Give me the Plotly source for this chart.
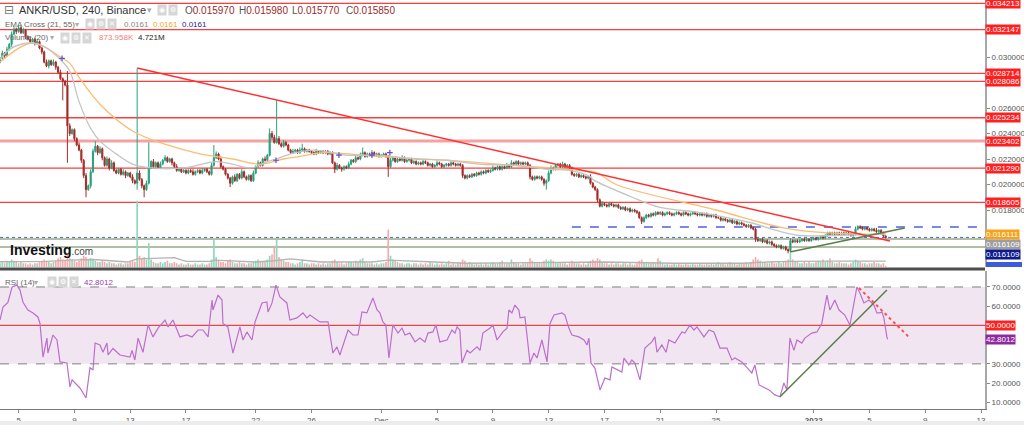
import pandas as pd
import plotly.graph_objects as go

# ---------------- data ----------------
bar_start = pd.Timestamp("2021-11-03 16:00")   # first 4h candle
bar_hours = 4

closes = [
    0.0299, 0.0303, 0.0301, 0.0306, 0.0310, 0.0318, 0.0322, 0.0320, 0.0323, 0.0319,
    0.0321, 0.0316, 0.0314, 0.0312, 0.0314, 0.0311, 0.0312, 0.0307, 0.0304, 0.0296,
    0.0293, 0.0297, 0.0294, 0.0296, 0.0292, 0.0288, 0.0283, 0.0281, 0.0278, 0.0246,
    0.0240, 0.0243, 0.0236, 0.0231, 0.0227, 0.0219, 0.0207, 0.0196, 0.0199, 0.0210,
    0.0226, 0.0230, 0.0225, 0.0228, 0.0221, 0.0215, 0.0220, 0.0213, 0.0217, 0.0211,
    0.0209, 0.0212, 0.0208, 0.0210, 0.0207, 0.0209, 0.0206, 0.0203, 0.0201, 0.0209,
    0.0204, 0.0199, 0.0196, 0.0201, 0.0213, 0.0218, 0.0214, 0.0217, 0.0213, 0.0216,
    0.0219, 0.0221, 0.0218, 0.0220, 0.0217, 0.0214, 0.0211, 0.0212, 0.0210, 0.0211,
    0.0209, 0.0211, 0.0210, 0.0208, 0.0210, 0.0211, 0.0209, 0.0211, 0.0212, 0.0210,
    0.0208, 0.0215, 0.0221, 0.0224, 0.0220, 0.0214, 0.0212, 0.0208, 0.0205, 0.0201,
    0.0206, 0.0203, 0.0208, 0.0205, 0.0210, 0.0206, 0.0204, 0.0207, 0.0203, 0.0209,
    0.0214, 0.0217, 0.0215, 0.0220, 0.0219, 0.0223, 0.0240, 0.0237, 0.0233, 0.0236,
    0.0232, 0.0230, 0.0233, 0.0231, 0.0227, 0.0225, 0.0226, 0.0227, 0.0225, 0.0227,
    0.0228, 0.0226, 0.0227, 0.0226, 0.0225, 0.0224, 0.0226, 0.0225, 0.0226, 0.0225,
    0.0226, 0.0224, 0.0225, 0.0217, 0.0212, 0.0215, 0.0213, 0.0212, 0.0214, 0.0213,
    0.0216, 0.0219, 0.0218, 0.0221, 0.0220, 0.0223, 0.0225, 0.0222, 0.0224, 0.0223,
    0.0225, 0.0223, 0.0224, 0.0222, 0.0223, 0.0224, 0.0222, 0.0214, 0.0219, 0.0221,
    0.0218, 0.0220, 0.0219, 0.0221, 0.0218, 0.0219, 0.0220, 0.0217, 0.0218, 0.0216,
    0.0217, 0.0216, 0.0218, 0.0217, 0.0215, 0.0216, 0.0214, 0.0215, 0.0217, 0.0216,
    0.0214, 0.0215, 0.0216, 0.0215, 0.0217, 0.0216, 0.0215, 0.0216, 0.0215, 0.0207,
    0.0205, 0.0207, 0.0206, 0.0208, 0.0207, 0.0209, 0.0208, 0.0210, 0.0209, 0.0211,
    0.0210, 0.0211, 0.0213, 0.0212, 0.0214, 0.0212, 0.0214, 0.0213, 0.0215, 0.0214,
    0.0217, 0.0216, 0.0218, 0.0216, 0.0217, 0.0216, 0.0217, 0.0215, 0.0206, 0.0204,
    0.0206, 0.0205, 0.0206, 0.0204, 0.0201, 0.0203, 0.0209, 0.0213, 0.0212, 0.0215,
    0.0216, 0.0214, 0.0216, 0.0214, 0.0215, 0.0213, 0.0208, 0.0207, 0.0208, 0.0206,
    0.0207, 0.0206, 0.0205, 0.0206, 0.0201, 0.0198, 0.0196, 0.0188, 0.0183, 0.0185,
    0.0184, 0.0183, 0.0185, 0.0184, 0.0183, 0.0184, 0.0182, 0.0181, 0.0182, 0.0180,
    0.0181, 0.0179, 0.0180, 0.0179, 0.0178, 0.0174, 0.0171, 0.0174, 0.0176, 0.0175,
    0.0177, 0.0176, 0.0178, 0.0177, 0.0178, 0.0176, 0.0177, 0.0178, 0.0177, 0.0176,
    0.0177, 0.0178, 0.0177, 0.0176, 0.0178, 0.0177, 0.0176, 0.0177, 0.0178, 0.0177,
    0.0176, 0.0177, 0.0176, 0.0177, 0.0175, 0.0176, 0.0175, 0.0176, 0.0174, 0.0174,
    0.0172, 0.0173, 0.0172, 0.0171, 0.0172, 0.0170, 0.0171, 0.0169, 0.0170, 0.0169,
    0.0168, 0.0167, 0.0168, 0.0166, 0.0165, 0.0157, 0.0156, 0.0157, 0.0155, 0.0156,
    0.0154, 0.0155, 0.0153, 0.0152, 0.0151, 0.0152, 0.0150, 0.0151, 0.0149, 0.0148,
    0.0156, 0.0155, 0.0156, 0.0155, 0.0156, 0.0157, 0.0156, 0.0157, 0.0156, 0.0157,
    0.0158, 0.0157, 0.0158, 0.0159, 0.0158, 0.0160, 0.0162, 0.0161, 0.0162, 0.0161,
    0.0162, 0.0161, 0.0162, 0.0161, 0.0162, 0.0161, 0.0160, 0.0161, 0.0165, 0.0167,
    0.0166, 0.0165, 0.0166, 0.0165, 0.0164, 0.0165, 0.0164, 0.0163, 0.0164, 0.0162,
    0.01597, 0.01585,
]
first_open = 0.0296

# wick lengths above / below the candle body, in units of 0.0001
upper_wick_e4 = [
    1, 2, 1, 2, 1, 2, 2, 1, 2, 1, 2, 1, 1, 2, 1, 1, 2, 1, 1, 1,
    2, 1, 1, 2, 1, 1, 2, 1, 1, 11, 2, 1, 1, 1, 2, 1, 1, 2, 1, 2,
    2, 4, 1, 2, 1, 1, 2, 1, 2, 1, 1, 1, 1, 2, 1, 1, 1, 2, 1, 82,
    2, 1, 1, 2, 20, 1, 2, 1, 1, 2, 1, 2, 1, 1, 1, 1, 2, 1, 1, 1,
    1, 1, 1, 2, 1, 1, 1, 2, 1, 1, 1, 2, 10, 2, 1, 2, 1, 1, 1, 1,
    1, 2, 1, 1, 2, 1, 1, 1, 1, 2, 1, 2, 1, 1, 2, 1, 4, 2, 2, 30,
    2, 1, 2, 1, 1, 1, 2, 1, 1, 2, 4, 1, 1, 1, 1, 1, 2, 1, 1, 1,
    1, 1, 1, 1, 1, 2, 1, 1, 1, 1, 2, 1, 1, 2, 1, 2, 4, 1, 1, 1,
    2, 1, 1, 1, 1, 1, 1, 1, 2, 1, 1, 1, 1, 2, 1, 1, 1, 1, 1, 1,
    1, 1, 2, 1, 1, 1, 1, 1, 2, 1, 1, 1, 1, 1, 2, 1, 1, 1, 1, 1,
    1, 1, 1, 1, 1, 1, 1, 1, 1, 1, 1, 1, 2, 1, 1, 1, 1, 1, 2, 1,
    2, 1, 1, 1, 1, 1, 1, 1, 1, 1, 1, 1, 1, 1, 1, 1, 2, 2, 1, 1,
    1, 1, 2, 1, 1, 1, 1, 1, 1, 1, 1, 1, 1, 1, 2, 1, 1, 1, 1, 2,
    1, 1, 1, 1, 1, 1, 1, 1, 1, 1, 1, 1, 1, 1, 1, 1, 1, 1, 1, 1,
    1, 1, 1, 1, 1, 1, 1, 1, 1, 1, 1, 1, 1, 1, 1, 1, 1, 1, 1, 1,
    1, 1, 1, 1, 1, 1, 1, 1, 1, 1, 1, 1, 1, 1, 1, 1, 1, 1, 1, 1,
    1, 1, 1, 1, 1, 1, 1, 1, 1, 1, 1, 1, 1, 1, 1, 1, 1, 1, 1, 1,
    2, 1, 1, 1, 1, 1, 1, 1, 1, 1, 1, 1, 1, 1, 1, 1, 1, 1, 1, 1,
    1, 1, 1, 1, 1, 1, 1, 1, 2, 1, 1, 1, 1, 1, 1, 1, 1, 2, 1, 1,
    1, 0.1,
]
lower_wick_e4 = [
    1, 1, 2, 1, 1, 2, 1, 2, 1, 1, 1, 2, 1, 1, 1, 2, 1, 1, 2, 1,
    1, 2, 1, 1, 2, 1, 1, 15, 1, 29, 2, 1, 2, 1, 1, 2, 2, 6, 1, 2,
    1, 1, 2, 1, 2, 1, 1, 2, 1, 1, 1, 1, 1, 1, 2, 1, 1, 2, 1, 5,
    1, 2, 6, 1, 1, 1, 1, 2, 1, 1, 1, 1, 1, 1, 2, 1, 1, 1, 1, 1,
    1, 1, 1, 1, 1, 1, 1, 1, 1, 1, 1, 1, 1, 1, 1, 1, 1, 1, 1, 3,
    1, 1, 1, 1, 1, 1, 1, 1, 1, 1, 1, 1, 1, 1, 1, 1, 1, 2, 1, 1,
    1, 1, 1, 1, 1, 1, 1, 1, 1, 1, 1, 1, 1, 1, 1, 1, 1, 1, 1, 1,
    1, 1, 1, 1, 3, 1, 1, 2, 1, 1, 1, 1, 1, 1, 1, 1, 1, 1, 1, 1,
    1, 1, 1, 1, 1, 1, 1, 8, 1, 1, 1, 1, 1, 1, 1, 1, 1, 1, 1, 1,
    1, 1, 1, 1, 1, 1, 1, 1, 1, 1, 1, 1, 1, 1, 1, 1, 1, 1, 1, 2,
    1, 1, 1, 1, 1, 1, 1, 1, 1, 1, 1, 1, 1, 1, 1, 1, 1, 1, 1, 1,
    1, 1, 1, 1, 1, 1, 1, 1, 2, 1, 1, 1, 1, 1, 2, 5, 1, 1, 1, 1,
    1, 1, 1, 1, 1, 1, 1, 1, 1, 1, 1, 1, 1, 1, 1, 1, 1, 2, 1, 1,
    1, 1, 1, 1, 1, 1, 1, 1, 1, 1, 1, 1, 1, 1, 1, 1, 2, 1, 1, 1,
    1, 1, 1, 1, 1, 1, 1, 1, 1, 1, 1, 1, 1, 1, 1, 1, 1, 1, 1, 1,
    1, 1, 1, 1, 1, 1, 1, 1, 1, 1, 1, 1, 1, 1, 1, 1, 1, 1, 1, 1,
    1, 1, 1, 1, 1, 2, 1, 1, 1, 1, 1, 1, 1, 1, 1, 1, 1, 1, 1, 2,
    1, 1, 1, 1, 1, 1, 1, 1, 1, 1, 1, 1, 1, 1, 1, 1, 1, 1, 1, 1,
    1, 1, 1, 1, 1, 1, 1, 1, 1, 1, 1, 1, 1, 1, 1, 1, 1, 1, 1, 1,
    1, 0.8,
]

# volume, millions
volume_m = [
    3, 4, 3, 5, 4, 6, 5, 4, 3, 4, 3, 3, 2, 3, 2, 3, 3, 4, 5, 6,
    5, 4, 3, 4, 5, 7, 8, 6, 5, 10, 7, 6, 5, 4, 5, 7, 9, 8, 6, 7,
    6, 5, 4, 4, 5, 4, 3, 4, 3, 3, 2, 3, 3, 2, 3, 3, 4, 5, 4, 53,
    9, 7, 8, 6, 19, 6, 4, 3, 3, 4, 3, 4, 5, 3, 3, 4, 3, 2, 3, 2,
    2, 3, 2, 2, 3, 2, 2, 3, 2, 2, 3, 6, 23, 8, 5, 4, 4, 3, 5, 6,
    4, 3, 3, 4, 3, 3, 2, 3, 3, 4, 5, 6, 4, 4, 5, 6, 9, 10, 17, 22,
    8, 6, 5, 4, 4, 3, 3, 2, 3, 4, 6, 3, 3, 2, 3, 3, 2, 3, 2, 3,
    2, 3, 3, 5, 6, 4, 3, 3, 2, 3, 4, 4, 3, 5, 4, 6, 7, 4, 3, 3,
    3, 2, 3, 2, 3, 3, 4, 30, 9, 6, 5, 4, 3, 3, 2, 3, 3, 2, 3, 3,
    2, 3, 2, 3, 2, 4, 3, 2, 3, 2, 3, 2, 3, 5, 2, 3, 2, 3, 4, 6,
    5, 3, 4, 3, 2, 3, 2, 3, 2, 3, 2, 3, 4, 3, 3, 4, 5, 3, 3, 3,
    6, 4, 3, 3, 2, 3, 3, 4, 7, 5, 4, 3, 4, 3, 5, 6, 5, 6, 5, 4,
    3, 4, 3, 3, 2, 3, 5, 4, 3, 3, 2, 3, 2, 3, 5, 6, 5, 7, 6, 4,
    3, 3, 2, 3, 2, 3, 3, 2, 3, 3, 2, 3, 2, 2, 3, 5, 6, 4, 3, 3,
    3, 4, 3, 7, 5, 3, 2, 3, 2, 2, 3, 2, 3, 2, 2, 3, 2, 2, 3, 2,
    2, 3, 2, 2, 3, 2, 3, 2, 3, 4, 3, 3, 2, 3, 4, 3, 3, 2, 3, 3,
    3, 4, 3, 4, 6, 8, 6, 5, 4, 4, 3, 3, 4, 3, 3, 4, 3, 4, 5, 6,
    11, 6, 4, 4, 3, 3, 4, 3, 4, 3, 3, 4, 5, 4, 6, 4, 5, 7, 4, 3,
    3, 4, 3, 3, 3, 2, 3, 4, 6, 5, 4, 3, 3, 2, 3, 3, 4, 3, 3, 2,
    3, 0.874,
]

vol_ma_bar = [0, 20, 30, 40, 55, 59, 75, 80, 91, 92, 110, 118, 125, 138, 160, 167, 187, 200, 230, 260, 290, 320, 330, 340, 360, 381]
vol_ma_m = [4.2, 4.5, 5.5, 6.0, 4.0, 6.5, 7.5, 4.5, 4.5, 5.5, 4.0, 5.0, 6.5, 4.0, 4.0, 5.5, 4.0, 3.0, 3.5, 4.0, 3.0, 3.0, 4.0, 4.5, 4.7, 4.721]

ema21_bar = [0, 4, 9, 14, 19, 26, 30, 34, 39, 43, 50, 57, 65, 79, 93, 100, 108, 115, 119, 125,
             135, 149, 163, 178, 192, 206, 221, 235, 245, 254, 255, 272, 284, 301, 323, 334, 344, 358, 381]
ema21 = [0.0298, 0.0306, 0.0310, 0.0311, 0.0308, 0.0298, 0.0289, 0.0265, 0.0244, 0.0234, 0.0224,
         0.0216, 0.0213, 0.0213, 0.0218, 0.0216, 0.0213, 0.0218, 0.0220, 0.0224, 0.0227, 0.0223,
         0.0223, 0.0220, 0.0219, 0.0216, 0.0215, 0.0212, 0.0211, 0.0206, 0.0204, 0.0190, 0.0182,
         0.0178, 0.0170, 0.0164, 0.0160, 0.0160, 0.0161]
ema55_bar = [0, 14, 26, 30, 34, 43, 57, 72, 86, 100, 112, 122, 129, 139, 163, 192, 221, 249, 257,
             265, 308, 337, 356, 381]
ema55 = [0.0296, 0.0311, 0.0300, 0.0295, 0.0284, 0.0263, 0.0242, 0.0231, 0.0224, 0.0220, 0.0216,
         0.0220, 0.0222, 0.0225, 0.0222, 0.0219, 0.0215, 0.0211, 0.0209, 0.0200, 0.0180, 0.0166,
         0.0162, 0.0161]
cross_bar = [26.7, 118.7, 145.8, 160, 167.7]
cross_val = [0.0299, 0.0219, 0.0223, 0.0223, 0.0225]

rsi_bar = [0, 1.3, 3.4, 5.2, 7.3, 8.6, 9.9, 12, 14.2, 16.3,
           17.2, 18.5, 20.2, 20.6, 22.8, 24.5, 25.8, 28.8, 30.1, 31,
           34.4, 37, 38.7, 40, 40.9, 43, 44.3, 46, 46.5, 48.6,
           51.6, 55.9, 56.8, 58, 59.4, 61.5, 63.7, 65.8, 68, 71,
           72.3, 74.4, 77.4, 80.4, 82.6, 85.2, 87.3, 89.5, 91.2, 91.6,
           93.8, 95.5, 95.9, 98, 100.2, 103.2, 104.5, 106.2, 108.4, 109.7,
           112.7, 114.8, 115.3, 117, 118.7, 120.4, 123.4, 124.7, 127.7, 130.3,
           132, 133.3, 137.6, 141.1, 143.2, 144.9, 146.2, 149.7, 151.8, 154,
           155.7, 157.8, 160.4, 162.2, 163.4, 164.7, 166, 167.3, 169, 171.2,
           172.9, 174.2, 176.3, 178.5, 180.6, 182.8, 184.1, 186.2, 187.5, 189.2,
           192.3, 194.4, 195.7, 196.6, 197.8, 198.7, 200.9, 202.2, 205.2, 206.5,
           207.7, 210.8, 212, 213.8, 216.3, 218.1, 218.9, 220.2, 221.5, 223.2,
           223.7, 225.8, 228, 229.7, 231, 233.1, 235.3, 236.6, 238.3, 241.7,
           243, 244.7, 246, 249, 251.2, 252.5, 253.3, 254.2, 255.9, 258.1,
           260.2, 262.4, 263.2, 266.2, 267.5, 268.4, 270.5, 271.8, 273.1, 275.3,
           277.4, 280.4, 281.7, 282.6, 284.7, 286.5, 287.7, 290.3, 293.3, 294.6,
           296.8, 298.5, 299.8, 302.8, 305, 307.1, 309.7, 312.7, 314.8, 316.1,
           319.1, 322.2, 323.4, 324.7, 326.5, 330.8, 333.3, 335.5, 337.2, 338.5,
           339.8, 341.5, 342.8, 344.9, 346.2, 349.2, 351.4, 353.5, 355.7, 357,
           359.1, 360.9, 363.4, 365.6, 367.3, 368.6, 369.9, 371.6, 373.8, 375.9,
           377.2, 378.5, 379.4, 380.2, 381.5, 381.8]
rsi_val = [52.8, 59.6, 62, 70, 71, 68.4, 62, 58, 56.5, 54.4,
           51, 33.5, 43.4, 35.6, 45, 42.4, 31, 30.4, 18, 21.6,
           17.4, 12.2, 28, 26.8, 40.8, 39.8, 36, 40.8, 34.6, 38,
           34.6, 33.5, 37, 32, 43.4, 36, 50.2, 44, 48.6, 52.8,
           49.2, 52.8, 44, 45, 44, 47.6, 47.6, 44, 63.2, 58,
           65.8, 63.2, 51, 49.2, 35.6, 49.2, 42.4, 46.6, 42.4, 51.8,
           61.7, 62.2, 57, 61.7, 71, 64.8, 61.7, 52.8, 53.9, 56.5,
           53.9, 55.4, 51.8, 51.8, 35.6, 38.8, 34.6, 47.6, 45, 45,
           57, 56.5, 64.3, 58, 56.5, 51.8, 50.2, 33, 50.2, 46,
           48.6, 45, 46, 41.4, 43.4, 41.4, 46, 46.6, 50.2, 41.4,
           42.4, 47.6, 46, 49.2, 47.6, 30.4, 37, 35.6, 38.8, 37,
           46, 48.6, 50.2, 42.4, 46.6, 48.6, 58, 56.5, 60.6, 58,
           53.9, 54.4, 30.4, 35.6, 33, 42.4, 31, 51, 55.4, 56.5,
           55.4, 48.6, 45, 44, 42.4, 39.8, 43.4, 30.4, 27.8, 16.4,
           22.6, 21.6, 28.4, 26.8, 25.7, 33, 29.4, 32, 30.4, 21.6,
           38.2, 41.4, 44, 36, 39.8, 36, 42.4, 40.8, 46.6, 46,
           50.2, 47.6, 49.2, 44, 47.6, 46.6, 38.2, 38.2, 32, 33,
           31, 26.8, 25.2, 29.4, 19, 16.4, 13.8, 12.8, 20, 16.4,
           43.4, 37, 42.4, 40.8, 43.4, 46, 46.6, 51, 65.8, 58,
           63.2, 58, 55.4, 50.2, 60.6, 70, 66.9, 61.7, 63.2, 60.6,
           56.5, 56.5, 57, 53.9, 44, 42.8]

price_trend_red_bar = [59, 382.8]
price_trend_red = [0.02914, 0.01557]
price_trend_green_bar = [339.8, 389.2]
price_trend_green = [0.01471, 0.01659]
rsi_trend_green_bar = [335.5, 381.5]
rsi_trend_green = [12.8, 68.4]
rsi_trend_red_bar = [369.5, 391.4]
rsi_trend_red = [69.5, 43.4]

red_levels = [0.034213, 0.032147, 0.028714, 0.028086, 0.025234, 0.021290, 0.018605]
pink_levels = [0.023402]
blue_dash_level = 0.01667
blue_dash_from_bar = 246
last_price = 0.01585
olive_levels = [0.015725, 0.015098]

# axis ticks that are not hidden behind the level labels
price_ticks = [0.018, 0.020, 0.022, 0.024, 0.026, 0.030]
rsi_ticks = [10, 20, 30, 60, 70]
rsi_band = (30, 70)
rsi_mid = 50
rsi_last = 42.8012

tick_dates = ["2021-11-05", "2021-11-09", "2021-11-13", "2021-11-17", "2021-11-22", "2021-11-26",
              "2021-12-01", "2021-12-05", "2021-12-09", "2021-12-13", "2021-12-17", "2021-12-21",
              "2021-12-25", "2022-01-01", "2022-01-05", "2022-01-09", "2022-01-13"]
tick_text = ["5", "9", "13", "17", "22", "26", "Dec", "5", "9", "13", "17", "21", "25",
             "<b>2022</b>", "5", "9", "13"]

ohlc_last = {"O": "0.015970", "H": "0.015980", "L": "0.015770", "C": "0.015850"}
ema_last = ["0.0161", "0.0161", "0.0161"]
vol_last, vol_ma_last = "873.958K", "4.721M"
ema_axis_labels = [(0.016111, "#f7a21b"), (0.016109, "#9e9e9e"), (0.016109, "#0f1b8c")]

# ---------------- derived ----------------
def bt(b):
    return bar_start + pd.Timedelta(hours=bar_hours * b)

n = len(closes)
times = [bt(i) for i in range(n)]
opens = [first_open] + closes[:-1]
highs = [max(o, c) + u * 1e-4 for o, c, u in zip(opens, closes, upper_wick_e4)]
lows = [min(o, c) - d * 1e-4 for o, c, d in zip(opens, closes, lower_wick_e4)]
vol_colors = ["#8fd8bb" if c >= o else "#f5abab" for o, c in zip(opens, closes)]

PW, PH = 985.0, 409.0          # plot area in px
P_TOP, P_BOT = 0.0344706, 0.0135294
FONT = "Liberation Sans"

fig = go.Figure()

# volume (base axis y)
fig.add_trace(go.Bar(x=times, y=volume_m, marker=dict(color=vol_colors, line=dict(width=0)),
                     width=bar_hours * 3600 * 1000 * 0.72, xaxis="x", yaxis="y"))
fig.add_trace(go.Scatter(x=[bt(b) for b in vol_ma_bar], y=vol_ma_m, mode="lines",
                         line=dict(color="#b4b4b4", width=1.3), xaxis="x", yaxis="y"))

# price (y3 overlaying y)
fig.add_trace(go.Scatter(x=[bt(b) for b in ema55_bar], y=ema55, mode="lines",
                         line=dict(color="#fbbd74", width=1.3, shape="spline"), xaxis="x", yaxis="y3"))
fig.add_trace(go.Scatter(x=[bt(b) for b in ema21_bar], y=ema21, mode="lines",
                         line=dict(color="#c4c4c4", width=1.3, shape="spline"), xaxis="x", yaxis="y3"))
fig.add_trace(go.Candlestick(x=times, open=opens, high=highs, low=lows, close=closes,
                             increasing=dict(line=dict(color="#26a17e", width=1), fillcolor="#26a17e"),
                             decreasing=dict(line=dict(color="#a52c28", width=1), fillcolor="#a52c28"),
                             xaxis="x", yaxis="y3"))
fig.add_trace(go.Scatter(x=[bt(b) for b in price_trend_red_bar], y=price_trend_red, mode="lines",
                         line=dict(color="#ff3030", width=1.5), xaxis="x", yaxis="y3"))
fig.add_trace(go.Scatter(x=[bt(b) for b in price_trend_green_bar], y=price_trend_green, mode="lines",
                         line=dict(color="#5b7d47", width=1.5), xaxis="x", yaxis="y3"))
fig.add_trace(go.Scatter(x=[bt(b) for b in cross_bar], y=cross_val, mode="markers",
                         marker=dict(symbol="cross-thin", size=4, line=dict(color="#5a4fd0", width=1.2)),
                         xaxis="x", yaxis="y3"))

# RSI
fig.add_trace(go.Scatter(x=[bt(b) for b in rsi_bar], y=rsi_val, mode="lines",
                         line=dict(color="#bb6fcb", width=1.2), xaxis="x", yaxis="y2"))
fig.add_trace(go.Scatter(x=[bt(b) for b in rsi_trend_green_bar], y=rsi_trend_green, mode="lines",
                         line=dict(color="#5b7d47", width=1.5), xaxis="x", yaxis="y2"))
fig.add_trace(go.Scatter(x=[bt(b) for b in rsi_trend_red_bar], y=rsi_trend_red, mode="lines",
                         line=dict(color="#ff5050", width=2, dash="dot"), xaxis="x", yaxis="y2"))

# ---------------- shapes ----------------
shapes = []
for lv in red_levels:
    shapes.append(dict(type="line", xref="paper", x0=0, x1=1, yref="y3", y0=lv, y1=lv,
                       line=dict(color="#ff3b3b", width=1.3), layer="below"))
for lv in pink_levels:
    shapes.append(dict(type="line", xref="paper", x0=0, x1=1, yref="y3", y0=lv, y1=lv,
                       line=dict(color="#f6a0a0", width=3), layer="below"))
for lv in olive_levels:
    shapes.append(dict(type="line", xref="paper", x0=0, x1=1, yref="y3", y0=lv, y1=lv,
                       line=dict(color="#98a888", width=1.6), layer="below"))
shapes.append(dict(type="line", xref="paper", x0=0, x1=1, yref="y3", y0=last_price, y1=last_price,
                   line=dict(color="#4a63d8", width=1, dash="dot"), layer="below"))
shapes.append(dict(type="line", xref="x", x0=bt(blue_dash_from_bar), x1=bt(423.7), yref="y3",
                   y0=blue_dash_level, y1=blue_dash_level,
                   line=dict(color="#4a63e0", width=1.5, dash="dash"), layer="below"))
# RSI band + levels
shapes.append(dict(type="rect", xref="paper", x0=0, x1=1, yref="y2", y0=rsi_band[0], y1=rsi_band[1],
                   fillcolor="#f2e5f2", line=dict(width=0), layer="below"))
for lv in rsi_band:
    shapes.append(dict(type="line", xref="paper", x0=0, x1=1, yref="y2", y0=lv, y1=lv,
                       line=dict(color="#a6a6a6", width=1.5, dash="dash"), layer="below"))
shapes.append(dict(type="line", xref="paper", x0=0, x1=1, yref="y2", y0=rsi_mid, y1=rsi_mid,
                   line=dict(color="#e04848", width=1.2), layer="below"))
# pane separator
sep_y = 1 - 269 / PH
shapes.append(dict(type="line", xref="paper", x0=0, x1=1, yref="paper", y0=sep_y, y1=sep_y,
                   line=dict(color="#4d4d4d", width=3)))
# bottom grey strip
shapes.append(dict(type="rect", xref="paper", x0=0, x1=1024 / PW, yref="paper",
                   y0=1 - 426 / PH, y1=1 - 421 / PH, fillcolor="#ececec", line=dict(width=0)))
# clipped last-price label under the separator
shapes.append(dict(type="rect", xref="paper", x0=986 / PW, x1=1022 / PW, yref="paper",
                   y0=1 - 267 / PH, y1=1 - 262 / PH, fillcolor="#3d5cd9", line=dict(width=0)))

# ---------------- annotations ----------------
def at(x, y, text, size=8, color="#555", family=FONT, **kw):
    return dict(x=x / PW, y=1 - y / PH, xref="paper", yref="paper", xanchor="left",
                yanchor="middle", text=text, showarrow=False,
                font=dict(size=size, color=color, family=family), **kw)

def icons(x, y, glyphs):
    out = []
    for k, g in enumerate(glyphs):
        out.append(at(x + 11 * k, y, g, size=7, color="#ffffff", family="DejaVu Sans",
                      bgcolor="#d6d6d6", borderpad=1))
    return out

anns = []
# header line 1
anns.append(at(2, 10, "⊟", size=12, color="#777", family="DejaVu Sans"))
anns.append(at(17, 10, "ANKR/USD, 240, Binance", size=11, color="#333"))
anns.append(at(145, 10, "▾", size=9, color="#aaa", family="DejaVu Sans"))
anns += icons(157, 10, ["◉", "⚙"])
for k, (lab, val) in enumerate(ohlc_last.items()):
    anns.append(at(183 + 53.5 * k, 10, f"{lab}<span style='color:#9b2a2a'>{val}</span>",
                   size=10, color="#555"))
# header line 2
anns.append(at(3, 24, "EMA Cross (21, 55)", size=8, color="#666"))
anns.append(at(73, 24, "▾", size=8, color="#aaa", family="DejaVu Sans"))
anns += icons(85, 24, ["◉", "⚙", "✕"])
for k, col in enumerate(["#888888", "#f5a623", "#1e1e8c"]):
    anns.append(at(122 + 29 * k, 24, ema_last[k], size=8, color=col))
# header line 3
anns.append(at(3, 38, "Volume (20)", size=8, color="#666"))
anns.append(at(48, 38, "▾", size=8, color="#aaa", family="DejaVu Sans"))
anns += icons(60, 38, ["◉", "⚙", "✕"])
anns.append(at(97, 38, vol_last, size=8, color="#f08080"))
anns.append(at(136, 38, vol_ma_last, size=8, color="#222"))
# RSI header
anns.append(at(3, 282, "RSI (14)", size=8, color="#666"))
anns.append(at(32, 282, "▾", size=8, color="#aaa", family="DejaVu Sans"))
anns += icons(47, 282, ["◉", "⚙", "✕"])
anns.append(at(82, 282, f"{rsi_last:.4f}", size=8, color="#9c3db0"))
# watermark
anns.append(at(8, 250, "<b>Investing</b><span style='font-size:10px;color:#444'>.com</span>",
               size=14, color="#111"))

# right-side price labels
def side_label(val, bg, yref="y3", fmt="{:.6f}", yshift=0, fg="#ffffff"):
    return dict(x=1, xref="paper", xanchor="left", xshift=0, y=val, yref=yref, yanchor="middle",
                yshift=yshift, text=fmt.format(val), showarrow=False, bgcolor=bg, borderpad=0,
                font=dict(size=8, color=fg, family=FONT))

for lv in red_levels:
    anns.append(side_label(lv, "#ff1f1f"))
for lv in pink_levels:
    anns.append(side_label(lv, "#ff1f1f"))
for k, (val, col) in enumerate(ema_axis_labels):
    anns.append(side_label(val, col, yshift=-10 * k))
anns.append(side_label(rsi_mid, "#ff1f1f", yref="y2", fmt="{:.4f}"))
anns.append(side_label(rsi_last, "#8e2a9e", yref="y2", fmt="{:.4f}"))

tickfont = dict(size=8, color="#555", family=FONT)
fig.update_layout(
    width=1024, height=425,
    margin=dict(l=0, r=39, t=0, b=16, pad=0, autoexpand=False),
    paper_bgcolor="white", plot_bgcolor="white",
    showlegend=False, hovermode=False,
    xaxis=dict(type="date", domain=[0, 1], anchor="y2", range=[bt(0), bt(423.7)],
               tickvals=[pd.Timestamp(d) for d in tick_dates], ticktext=tick_text,
               tickfont=tickfont, ticks="outside", ticklen=3, tickcolor="#888",
               showline=True, linecolor="#777", linewidth=1, showgrid=False, zeroline=False,
               automargin=False, rangeslider=dict(visible=False)),
    yaxis=dict(domain=[1 - 267 / PH, 1], range=[0, 213.6], visible=False, anchor="x",
               automargin=False),
    yaxis3=dict(overlaying="y", anchor="x", side="right", range=[P_BOT, P_TOP],
                tickvals=price_ticks, ticktext=[f"{v:.6f}" for v in price_ticks],
                tickfont=tickfont, ticks="outside", ticklen=3, tickcolor="#888",
                showline=True, linecolor="#a8a8a8", linewidth=2, showgrid=False, zeroline=False,
                automargin=False),
    yaxis2=dict(domain=[0, 1 - 271 / PH], anchor="x", side="right", range=[6.46, 78.33],
                tickvals=rsi_ticks, ticktext=[f"{v:.4f}" for v in rsi_ticks],
                tickfont=tickfont, ticks="outside", ticklen=3, tickcolor="#888",
                showline=True, linecolor="#a8a8a8", linewidth=2, showgrid=False, zeroline=False,
                automargin=False),
    shapes=shapes,
    annotations=anns,
)

fig.write_html("out.html", config={"displayModeBar": False, "staticPlot": True},
               post_script="document.body.style.margin='0';document.body.style.overflow='hidden';")
